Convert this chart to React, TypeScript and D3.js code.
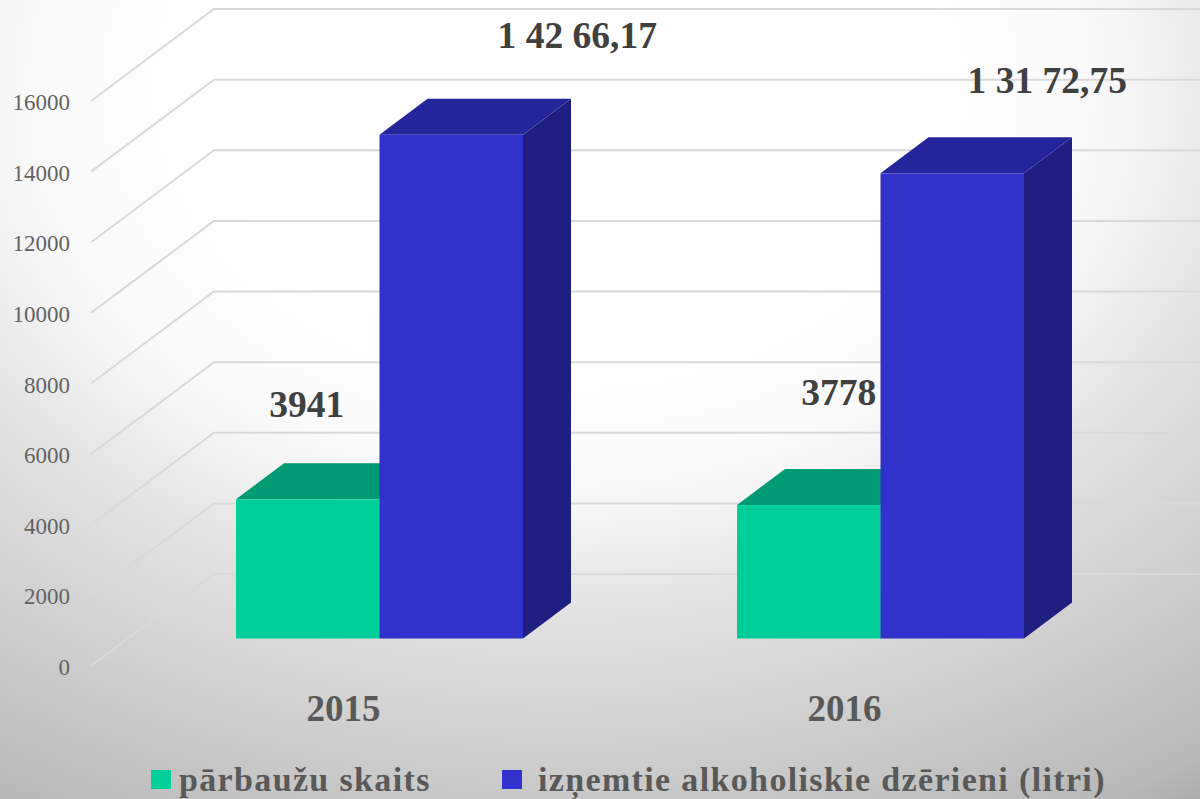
import React from 'react';
import * as d3 from 'd3';

const categories = ['2015', '2016'];
const seriesNames = ['pārbaužu skaits', 'izņemtie alkoholiskie dzērieni (litri)'];
const inspections = [3941, 3778];
const litres = [14266.17, 13172.75];
const inspectionLabels = ['3941', '3778'];
const litreLabels = ['1 42 66,17', '1 31 72,75'];
const yTicks = [0, 2000, 4000, 6000, 8000, 10000, 12000, 14000, 16000];

const width = 1200;
const height = 799;
const wallDx = 123;
const wallDy = 92;
const barDx = 48;
const barDy = 36;
const barLift = 27.5;
const serif = '"Liberation Serif", serif';

const y = d3.scaleLinear().domain([0, 16000]).range([666, 101]);
const x0 = d3.scaleBand().domain(categories).range([129, 1131]).paddingInner(214 / 501).paddingOuter(107 / 501);
const x1 = d3.scaleBand().domain(seriesNames).range([0, x0.bandwidth()]);

const seriesColors = [
  { front: '#00cf9a', top: '#009a73', side: '#008a67' },
  { front: '#3131cb', top: '#25259b', side: '#1f1f81' },
];
const seriesValues = [inspections, litres];
const seriesLabels = [inspectionLabels, litreLabels];
// labels were placed by hand in the original, so they do not follow the bar tops
const labelOffsets = [
  [{ dx: -1, dy: -82 }, { dx: 30, dy: -100 }],
  [{ dx: 126, dy: -87 }, { dx: 95, dy: -80 }],
];

const pts = (p: number[][]) => p.map(d => d.join(',')).join(' ');

export default function App() {
  const gridPath = d3.line();
  return (
    <svg width={width} height={height} style={{ position: 'absolute', left: 0, top: 0, display: 'block' }}>
      <defs>
        <radialGradient id="bg" gradientUnits="userSpaceOnUse" cx={0} cy={0} r={1}
          gradientTransform="translate(560,90) scale(1160,860)">
          <stop offset="0.3" stopColor="#ffffff" />
          <stop offset="0.45" stopColor="#fafafa" />
          <stop offset="0.5" stopColor="#f4f4f4" />
          <stop offset="0.6" stopColor="#e3e3e3" />
          <stop offset="0.76" stopColor="#d0d0d0" />
          <stop offset="0.95" stopColor="#b8b8b8" />
          <stop offset="1" stopColor="#aaaaaa" />
        </radialGradient>
      </defs>
      <rect width={width} height={height} fill="url(#bg)" />

      {yTicks.map(t => (
        <g key={t}>
          <path
            d={gridPath([[91, y(t)], [91 + wallDx, y(t) - wallDy], [width, y(t) - wallDy]]) ?? ''}
            fill="none" stroke="#d9d9d9" strokeWidth={2}
          />
          <text x={70} y={y(t) + 9} textAnchor="end" fontFamily={serif} fontSize={23} fill="#636363">{t}</text>
        </g>
      ))}

      {categories.map((c, i) => (
        <g key={c} transform={`translate(${x0(c)},0)`}>
          {seriesNames.map((s, k) => {
            const left = x1(s) ?? 0;
            const right = left + x1.bandwidth();
            const top = y(seriesValues[k][i]) - barLift;
            const base = y(0) - barLift;
            const col = seriesColors[k];
            return (
              <g key={s}>
                <polygon points={pts([[right, top], [right + barDx, top - barDy], [right + barDx, base - barDy], [right, base]])} fill={col.side} />
                <polygon points={pts([[left, top], [left + barDx, top - barDy], [right + barDx, top - barDy], [right, top]])} fill={col.top} />
                <rect x={left} y={top} width={x1.bandwidth()} height={base - top} fill={col.front} />
              </g>
            );
          })}
        </g>
      ))}

      {seriesNames.map((s, k) => categories.map((c, i) => (
        <text
          key={s + c}
          x={(x0(c) ?? 0) + (x1(s) ?? 0) + x1.bandwidth() / 2 + labelOffsets[k][i].dx}
          y={y(seriesValues[k][i]) - barLift + labelOffsets[k][i].dy}
          textAnchor="middle" fontFamily={serif} fontWeight="bold" fontSize={37.5} fill="#404040"
        >
          {seriesLabels[k][i]}
        </text>
      )))}

      {categories.map(c => (
        <text key={c} x={(x0(c) ?? 0) + x0.bandwidth() / 2 - 36} y={721} textAnchor="middle"
          fontFamily={serif} fontWeight="bold" fontSize={37} fill="#595959">{c}</text>
      ))}

      <rect x={151} y={770} width={20} height={19} fill={seriesColors[0].front} />
      <text x={179} y={791} fontFamily={serif} fontWeight="bold" fontSize={34} letterSpacing={1.35} fill="#595959">{seriesNames[0]}</text>
      <rect x={502} y={770} width={20} height={19} fill={seriesColors[1].front} />
      <text x={538} y={791} fontFamily={serif} fontWeight="bold" fontSize={34} letterSpacing={1.35} fill="#595959">{seriesNames[1]}</text>
    </svg>
  );
}
